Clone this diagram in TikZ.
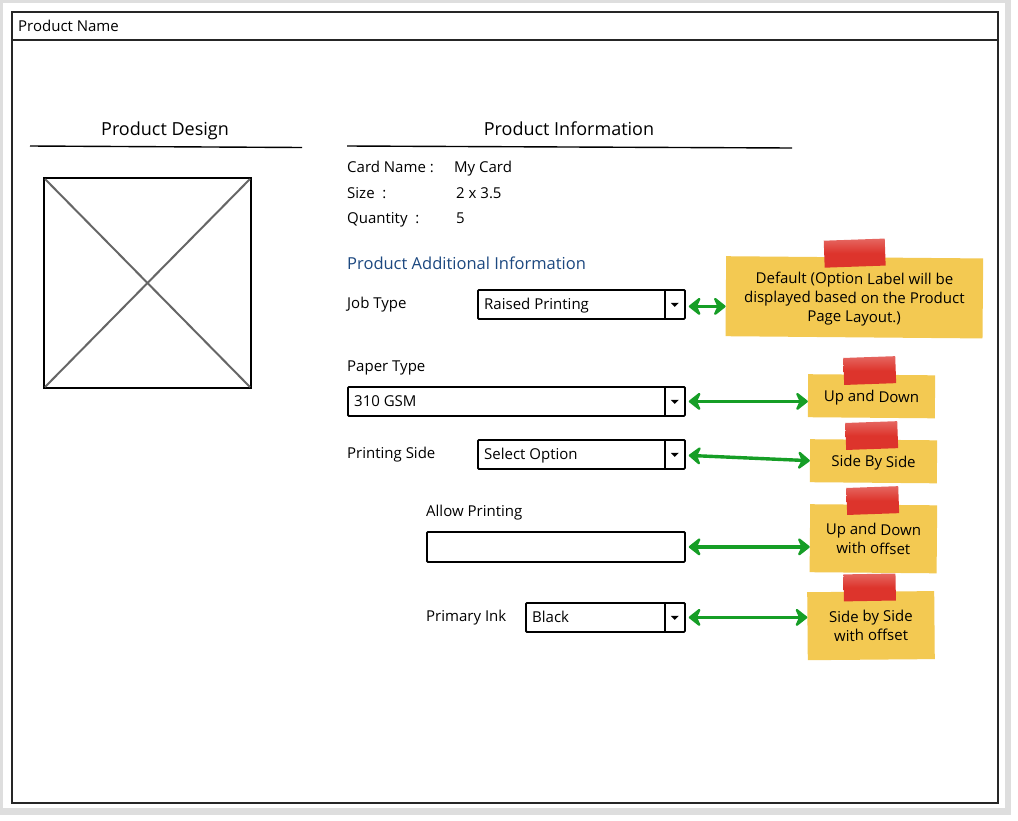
\documentclass[tikz,border=0pt]{standalone}
\usepackage{fontspec}
\setmainfont{Open Sans}
\usetikzlibrary{arrows.meta}
\usetikzlibrary{calc}
\usetikzlibrary{positioning}
\tikzset{>=latex}
\definecolor{notecol}{RGB}{243,201,82}
\definecolor{tapecol}{RGB}{221,52,44}
\definecolor{linkcol}{RGB}{22,158,38}
\definecolor{headcol}{RGB}{28,72,128}
\colorlet{crosscol}{black!60}
\colorlet{shadowcol}{black!13}
\tikzstyle{frame}=[draw=black!85,line width=2pt]
\tikzstyle{lbl}=[inner sep=0pt,anchor=base west,yshift=-5pt,font=\fontsize{15}{17}\selectfont]
\tikzstyle{title}=[inner sep=0pt,anchor=base,yshift=-6pt,font=\fontsize{18}{20}\selectfont]
\tikzstyle{dropbox}=[draw=black,line width=1.8pt,anchor=north west,minimum height=29pt,inner sep=0pt,rounded corners=1pt]
\tikzstyle{note}=[fill=notecol,inner sep=3pt,text depth=0pt,anchor=north west,align=center,font=\fontsize{15}{19}\selectfont]
\tikzstyle{tape}=[top color=tapecol!75!white,bottom color=tapecol,middle color=tapecol,minimum width=52pt,minimum height=27pt,inner sep=0pt]
\tikzset{
  linktip/.tip={Stealth[length=14pt,width=22pt,inset=5pt,round]},
  link/.style={draw=linkcol,fill=linkcol,line width=3.4pt,arrows={linktip-linktip}}
}

% name, top left corner, width, text
\newcommand{\dropdown}[4]{%
  \node[dropbox,minimum width=#3pt] (#1) at #2 {};
  \node[lbl] (#1txt) at ([xshift=7pt]#1.west) {#4};
  \draw[line width=1.5pt] ([xshift=-21pt]#1.north east) -- ([xshift=-21pt]#1.south east);
  \fill ([xshift=-15pt,yshift=1.5pt]#1.east) -- ([xshift=-7pt,yshift=1.5pt]#1.east)
    -- ([xshift=-11pt,yshift=-2.5pt]#1.east) -- cycle;
}

\begin{document}
\begin{tikzpicture}[x=1pt,y=-1pt]
  \def\W{1018} % page width
  \def\H{820}  % page height
  \useasboundingbox (0,0) rectangle (\W,\H);
  \fill[white] (0,0) rectangle (\W,\H);

  % card with its shadow
  \fill[shadowcol] (0,0) rectangle (1011,815);
  \fill[white] (3,3) rectangle (1005,808);

  % window frame and title bar
  \draw[frame] (12,12) rectangle (998,803);
  \draw[frame] (12,40) -- (998,40);
  \node[lbl] (pname) at (18,26) {Product Name};

  % left column : design
  \node[title] (designTitle) at (165,129) {Product Design};
  \draw[line width=1.4pt] (30,146) -- (302,147.5);
  \node[draw=black,line width=2pt,anchor=north west,minimum width=207pt,minimum height=210pt,inner sep=0pt] (designImg) at (43,177) {};
  \draw[crosscol,line width=2pt] ([shift={(2pt,-2pt)}]designImg.north west) -- ([shift={(-2pt,2pt)}]designImg.south east);
  \draw[crosscol,line width=2pt] ([shift={(-2pt,-2pt)}]designImg.north east) -- ([shift={(2pt,2pt)}]designImg.south west);

  % right column : information
  \node[title] (infoTitle) at (569,129) {Product Information};
  \draw[line width=1.4pt] (347,146) -- (792,148);
  \node[lbl] (cardLbl) at (347,167) {Card Name :};
  \node[lbl] (cardVal) at (454,167) {My Card};
  \node[lbl] (sizeLbl) at (347,193) {Size \ :};
  \node[lbl] (sizeVal) at (456,193) {2 x 3.5};
  \node[lbl] (qtyLbl) at (347,218) {Quantity \ :};
  \node[lbl] (qtyVal) at (456,218) {5};
  \node[lbl,text=headcol,font=\fontsize{16.5}{18}\selectfont] (addTitle) at (347,264) {Product Additional Information};

  % option fields
  \node[lbl] (jobLbl) at (347,303) {Job Type};
  \dropdown{jobDrop}{(477,289)}{207}{Raised Printing}
  \node[lbl] (paperLbl) at (347,366) {Paper Type};
  \dropdown{paperDrop}{(347,386)}{337}{310 GSM}
  \node[lbl] (sideLbl) at (347,453) {Printing Side};
  \dropdown{sideDrop}{(477,439)}{207}{Select Option}
  \node[lbl] (allowLbl) at (426,511) {Allow Printing};
  \node[dropbox,minimum width=258pt,minimum height=30pt] (allowBox) at (426,531) {};
  \node[lbl] (inkLbl) at (426,616) {Primary Ink};
  \dropdown{inkDrop}{(525,602)}{159}{Black}

  % sticky notes
  \node[note,minimum width=257pt,minimum height=80pt,rotate=-0.5] (defNote) at (726,256)
    {Default (Option Label will be\\displayed based on the Product\\Page Layout.)};
  \node[tape,minimum width=61pt,rotate=2] (defTape) at ([yshift=4pt]defNote.north) {};
  \node[note,minimum width=127pt,minimum height=43pt,rotate=-0.5] (upNote) at (808,374) {Up and Down};
  \node[tape,rotate=2] (upTape) at ([xshift=-2pt,yshift=4pt]upNote.north) {};
  \node[note,minimum width=127pt,minimum height=43pt,rotate=-0.5] (sideNote) at (810,439) {Side By Side};
  \node[tape,rotate=2] (sideTape) at ([xshift=-2pt,yshift=4pt]sideNote.north) {};
  \node[note,minimum width=127pt,minimum height=68pt,rotate=-0.5] (upOffNote) at (810,504) {Up and Down\\with offset};
  \node[tape,rotate=2] (upOffTape) at ([xshift=-1pt,yshift=4pt]upOffNote.north) {};
  \node[note,minimum width=127pt,minimum height=68pt,rotate=0.5] (sideOffNote) at (807,592) {Side by Side\\with offset};
  \node[tape,rotate=1] (sideOffTape) at ([xshift=-1pt,yshift=4pt]sideOffNote.north) {};

  % links from the fields to the notes
  \draw[link] ([xshift=3pt,yshift=-2pt]jobDrop.east) -- ([yshift=-2pt]jobDrop.east -| defNote.west);
  \draw[link] ([xshift=3pt]paperDrop.east) -- (paperDrop.east -| upNote.west);
  \draw[link] ([xshift=3pt,yshift=-1pt]sideDrop.east) -- (sideNote.west);
  \draw[link] ([xshift=3pt]allowBox.east) -- (allowBox.east -| upOffNote.west);
  \draw[link] ([xshift=3pt]inkDrop.east) -- (inkDrop.east -| sideOffNote.west);
\end{tikzpicture}
\end{document}
